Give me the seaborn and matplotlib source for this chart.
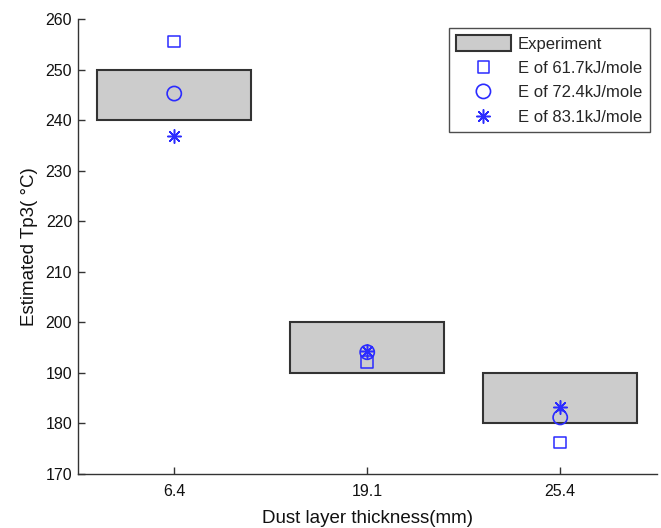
import matplotlib
matplotlib.use("Agg")
import matplotlib.pyplot as plt
import seaborn as sns
import pandas as pd

# ---- data ----
thickness = ["6.4", "19.1", "25.4"]
exp_low = [240, 190, 180]
exp_high = [250, 200, 190]
e_617 = [255.6, 192.2, 176.2]
e_724 = [245.3, 194.1, 181.2]
e_831 = [236.9, 194.4, 183.2]
series_labels = ["E of 61.7kJ/mole", "E of 72.4kJ/mole", "E of 83.1kJ/mole"]

sns.set_theme(style="white")
plt.rcParams['font.family'] = ['Liberation Sans', 'DejaVu Sans']

fig = plt.figure(figsize=(6.61, 5.28), dpi=100)
ax = fig.add_axes([0.1176, 0.1023, 0.8759, 0.8612])

blue = "#2b2bff"
df = pd.DataFrame({"x": thickness * 3,
                   "y": e_617 + e_724 + e_831,
                   "s": sum([[l] * 3 for l in series_labels], [])})

sns.scatterplot(data=df[df.s == series_labels[0]], x="x", y="y", ax=ax,
                marker="s", s=70, facecolors="none", edgecolor=blue,
                linewidth=1.1, label=series_labels[0], zorder=3)
sns.scatterplot(data=df[df.s == series_labels[1]], x="x", y="y", ax=ax,
                marker="o", s=105, facecolors="none", edgecolor=blue,
                linewidth=1.2, label=series_labels[1], zorder=3)
sns.scatterplot(data=df[df.s == series_labels[2]], x="x", y="y", ax=ax,
                marker=(8, 2, 0), s=95, color=blue, edgecolor=blue,
                linewidth=1.1, label=series_labels[2], zorder=3)

heights = [h - l for h, l in zip(exp_high, exp_low)]
ax.bar(thickness, heights, bottom=exp_low, width=0.8,
       color="#cccccc", edgecolor="#333333", linewidth=1.5,
       label="Experiment", zorder=2)

ax.set_xlim(-0.5, 2.5)
ax.set_ylim(170, 260)
ax.set_yticks(range(170, 261, 10))

ax.set_xlabel("Dust layer thickness(mm)", fontsize=13.5, labelpad=8,
              color="#111111")
ax.set_ylabel("Estimated Tp3( °C)", fontsize=13.5, labelpad=5,
              color="#111111")

for sp in ["top", "right"]:
    ax.spines[sp].set_visible(False)
for sp in ["left", "bottom"]:
    ax.spines[sp].set_color("#333333")
    ax.spines[sp].set_linewidth(1.0)
ax.tick_params(axis="both", direction="in", length=5, width=1,
               color="#333333", labelsize=11.5, labelcolor="#111111",
               left=True, bottom=True)
ax.tick_params(axis="x", pad=7)
ax.tick_params(axis="y", pad=4)

handles, labels = ax.get_legend_handles_labels()
order = [labels.index("Experiment")] + [labels.index(l) for l in series_labels]
leg = ax.legend([handles[i] for i in order], [labels[i] for i in order],
                loc="upper right", bbox_to_anchor=(0.988, 0.981),
                borderaxespad=0, fontsize=12, frameon=True, fancybox=False,
                edgecolor="#222222", handlelength=3.25, handleheight=1.1,
                handletextpad=0.45, labelspacing=0.45, borderpad=0.45)
leg.get_frame().set_linewidth(1.0)

fig.savefig("out.png", dpi=100)
